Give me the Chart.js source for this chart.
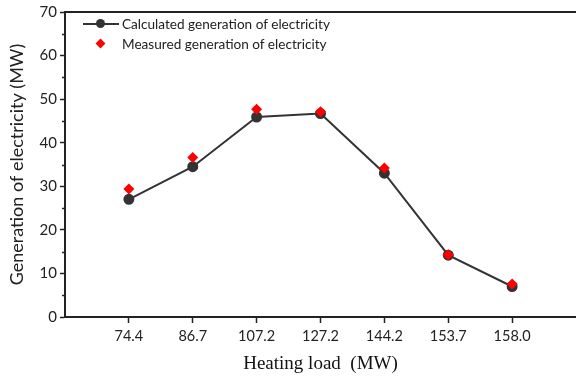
<!DOCTYPE html>
<html>
<head>
<meta charset="utf-8">
<script src="https://cdn.jsdelivr.net/npm/chart.js@4"></script>
<style>
  html, body { margin: 0; padding: 0; background: #fff; }
  .wrap { position: relative; width: 576px; height: 379px; }
  .legend { position: absolute; left: 83px; top: 14px; font-family: Lato, sans-serif; font-size: 13.6px; color: #222; }
  .legend .row { position: relative; height: 20px; line-height: 20px; padding-left: 39px; white-space: nowrap; }
  .legend .line { position: absolute; left: 0; top: 9px; width: 36px; height: 2px; background: #333; }
  .legend .dot { position: absolute; left: 13px; top: 5px; width: 9px; height: 9px; border-radius: 50%; background: #333; }
  .legend .dia { position: absolute; left: 14px; top: 6px; width: 7px; height: 7px; background: #f00; transform: rotate(45deg); }
</style>
</head>
<body>
<div class="wrap">
  <canvas id="c" width="576" height="379"></canvas>
  <div class="legend">
    <div class="row"><span class="line"></span><span class="dot"></span>Calculated generation of electricity</div>
    <div class="row"><span class="dia"></span>Measured generation of electricity</div>
  </div>
</div>
<script>
  const heatingLoad = ["74.4", "86.7", "107.2", "127.2", "144.2", "153.7", "158.0"];
  const calculated = [27.0, 34.5, 45.9, 46.7, 33.0, 14.2, 7.0];
  const measured = [29.4, 36.6, 47.7, 47.1, 34.2, 14.3, 7.6];
  const minorTicks = [5, 15, 25, 35, 45, 55, 65];

  const sans = "Lato, sans-serif";

  // small ticks between the labelled ones on the y axis
  const minorTickPlugin = {
    id: "minorTicks",
    afterDraw(chart) {
      const y = chart.scales.y;
      const ctx = chart.ctx;
      ctx.save();
      ctx.strokeStyle = "#222";
      ctx.lineWidth = 1.5;
      minorTicks.forEach(v => {
        const py = Math.round(y.getPixelForValue(v)) + 0.5;
        ctx.beginPath();
        ctx.moveTo(y.right - 3, py);
        ctx.lineTo(y.right, py);
        ctx.stroke();
      });
      ctx.restore();
    }
  };

  function noSidePadding(s, h) {
    s.height = h;
    s.paddingLeft = 0;
    s.paddingRight = 0;
  }

  new Chart(document.getElementById("c"), {
    type: "scatter",
    data: {
      datasets: [
        {
          label: "Measured generation of electricity",
          data: measured.map((v, i) => ({ x: i, y: v })),
          pointStyle: "rectRot",
          pointRadius: 5.5,
          backgroundColor: "#ff0000",
          borderColor: "#ff0000",
          borderWidth: 0,
          showLine: false
        },
        {
          label: "Calculated generation of electricity",
          data: calculated.map((v, i) => ({ x: i, y: v })),
          showLine: true,
          borderColor: "#333333",
          borderWidth: 2,
          pointRadius: 4.5,
          backgroundColor: "#333333",
          pointBorderColor: "#333333",
          tension: 0
        }
      ]
    },
    options: {
      responsive: false,
      animation: false,
      layout: { autoPadding: false, padding: { top: 10, right: 0, left: 0, bottom: 0 } },
      plugins: { legend: { display: false }, tooltip: { enabled: false } },
      scales: {
        x: {
          type: "linear",
          min: -1,
          max: 7,
          afterFit: s => noSidePadding(s, 62),
          afterBuildTicks: s => { s.ticks = heatingLoad.map((_, i) => ({ value: i })).concat([{ value: -1 }, { value: 7 }]).sort((a, b) => a.value - b.value); },
          ticks: {
            autoSkip: false,
            maxRotation: 0,
            padding: 5,
            color: "#222",
            font: { family: sans, size: 14.5 },
            callback: v => heatingLoad[v] || ""
          },
          grid: {
            drawOnChartArea: false,
            tickLength: 6,
            tickWidth: 1.5,
            tickColor: c => (c.tick && c.tick.value >= 0 && c.tick.value <= 6) ? "#222" : "rgba(0,0,0,0)"
          },
          border: { color: "#222", width: 2 },
          title: {
            display: true,
            text: "Heating load  (MW)",
            color: "#111",
            font: { family: "'Liberation Serif', serif", size: 19 },
            padding: { top: 0, bottom: 4 }
          }
        },
        x2: {
          type: "linear",
          position: "top",
          min: -1,
          max: 7,
          afterFit: s => noSidePadding(s, 0),
          ticks: { display: false },
          grid: { display: false },
          border: { color: "#222", width: 2 }
        },
        y: {
          min: 0,
          max: 70,
          afterFit: s => { s.width = 65; },
          ticks: {
            stepSize: 10,
            padding: 3,
            color: "#222",
            font: { family: sans, size: 15 }
          },
          grid: { drawOnChartArea: false, tickLength: 5, tickWidth: 1.5, tickColor: "#222" },
          border: { color: "#222", width: 2 },
          title: {
            display: true,
            text: "Generation of electricity (MW)",
            color: "#222",
            font: { family: sans, size: 18 },
            padding: { top: 6, bottom: 0 }
          }
        }
      }
    },
    plugins: [minorTickPlugin]
  });
</script>
</body>
</html>
